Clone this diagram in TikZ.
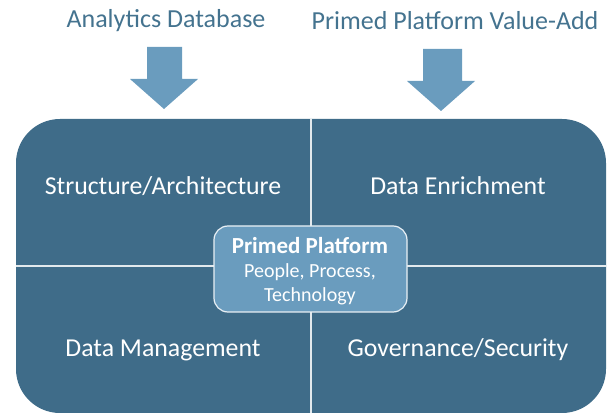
\documentclass[tikz,border=0pt]{standalone}
\usepackage{fontspec}
\setmainfont{Carlito}
\definecolor{darkblue}{HTML}{3F6C89}
\definecolor{lightblue}{HTML}{6A9CBE}
\definecolor{titleblue}{HTML}{44738F}
\begin{document}
\begin{tikzpicture}[x=1pt,y=-1pt,
  title/.style={text=titleblue,font=\fontsize{26}{28}\selectfont,anchor=center,inner sep=0},
  quad/.style={text=white,font=\fontsize{25.8}{28}\selectfont,anchor=center,inner sep=0},
  downarrow/.style={fill=lightblue,draw=none}]
\useasboundingbox (0,0) rectangle (614,414);
% titles
\node[title] (t1) at (166,21) {Analytics Database};
\node[title] (t2) at (455,21) {Primed Platform Value-Add};
% arrows
\fill[downarrow] (147,47) -- (182,47) -- (182,79) -- (198,79) -- (164,109) -- (130,79) -- (147,79) -- cycle;
\fill[downarrow] (423,49) -- (462,49) -- (462,81) -- (475,81) -- (441,111) -- (407,81) -- (423,81) -- cycle;
% main box
\node[fill=darkblue,rounded corners=44pt,minimum width=590pt,minimum height=294pt,inner sep=0,draw=none] (main) at (311,266) {};
\draw[white!85!darkblue,line width=1.2pt] (main.north) -- (main.south);
\draw[white!85!darkblue,line width=1.2pt] (main.west) -- (main.east);
% quadrant labels
\node[quad] (q1) at (163,186) {Structure/Architecture};
\node[quad] (q2) at (458,186) {Data Enrichment};
\node[quad] (q3) at (163,350) {Data Management};
\node[quad] (q4) at (458,350) {Governance/Security};
% center
\node[fill=lightblue,draw=white!85!lightblue,line width=1.2pt,rounded corners=14pt,minimum width=193pt,minimum height=86pt,inner sep=0] (center) at (310.5,269) {};
\node[text=white,font=\bfseries\fontsize{23}{25}\selectfont,inner sep=0] (c1) at (310,246) {Primed Platform};
\node[text=white,font=\fontsize{20}{22}\selectfont,inner sep=0] (c2) at (310,272) {People, Process,};
\node[text=white,font=\fontsize{20}{22}\selectfont,inner sep=0] (c3) at (310,296) {Technology};
\end{tikzpicture}
\end{document}
